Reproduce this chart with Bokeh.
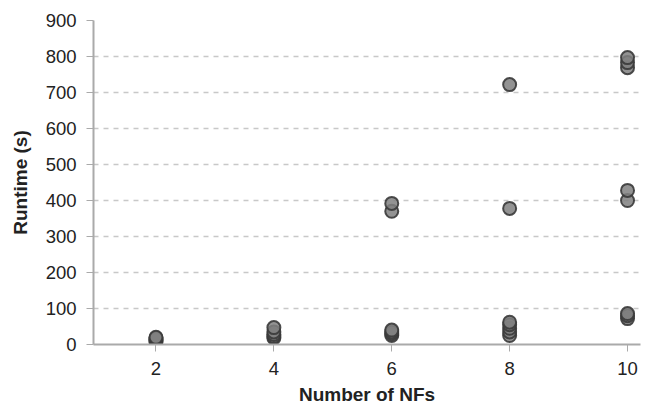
from bokeh.plotting import figure
from bokeh.models import Range1d, FixedTicker
from bokeh.embed import file_html
from bokeh.resources import INLINE

# Runtime measurements per number of NFs
nfs_2 = [8, 12, 15, 18, 20]
nfs_4 = [18, 22, 28, 35, 47]
nfs_6 = [25, 30, 35, 40, 370, 392]
nfs_8 = [25, 35, 45, 55, 62, 378, 722]
nfs_10 = [72, 80, 86, 400, 428, 769, 783, 797]

groups = {2: nfs_2, 4: nfs_4, 6: nfs_6, 8: nfs_8, 10: nfs_10}
xs, ys = [], []
for n, vals in groups.items():
    xs.extend([n] * len(vals))
    ys.extend(vals)

x_ticks = [2, 4, 6, 8, 10]
y_ticks = [0, 100, 200, 300, 400, 500, 600, 700, 800, 900]

p = figure(width=648, height=408, output_backend="svg", toolbar_location=None,
           x_range=Range1d(0.94, 10.22), y_range=Range1d(0, 900),
           min_border_left=93, min_border_right=8, min_border_top=20,
           min_border_bottom=64)
p.outline_line_color = None
p.background_fill_color = "white"

p.scatter(xs, ys, size=13, fill_color="#808080", fill_alpha=0.85,
          line_color="#3a3a3a", line_width=2, line_alpha=0.9)

font = "Liberation Sans"
for ax in (p.xaxis[0], p.yaxis[0]):
    ax.axis_line_color = "#aaaaaa"
    ax.axis_line_width = 2
    ax.major_tick_line_color = "#aaaaaa"
    ax.major_tick_line_width = 1
    ax.major_tick_out = 7
    ax.major_tick_in = 0
    ax.minor_tick_line_color = None
    ax.major_label_text_font = font
    ax.major_label_text_font_size = "18.5px"
    ax.major_label_text_color = "#222222"
    ax.axis_label_text_font = font
    ax.axis_label_text_font_size = "19px"
    ax.axis_label_text_font_style = "bold"
    ax.axis_label_text_color = "#222222"

p.xaxis.ticker = FixedTicker(ticks=x_ticks)
p.yaxis.ticker = FixedTicker(ticks=y_ticks)
p.xaxis.axis_label = "Number of NFs"
p.yaxis.axis_label = "Runtime (s)"
p.xaxis.major_label_standoff = 10
p.yaxis.major_label_standoff = 10
p.xaxis.axis_label_standoff = 6
p.yaxis.axis_label_standoff = 12

p.xgrid.grid_line_color = None
p.ygrid.grid_line_color = "#c8c8c8"
p.ygrid.grid_line_width = 1.5
p.ygrid.grid_line_dash = "5 5"

open("out.html", "w").write(file_html(p, INLINE))
